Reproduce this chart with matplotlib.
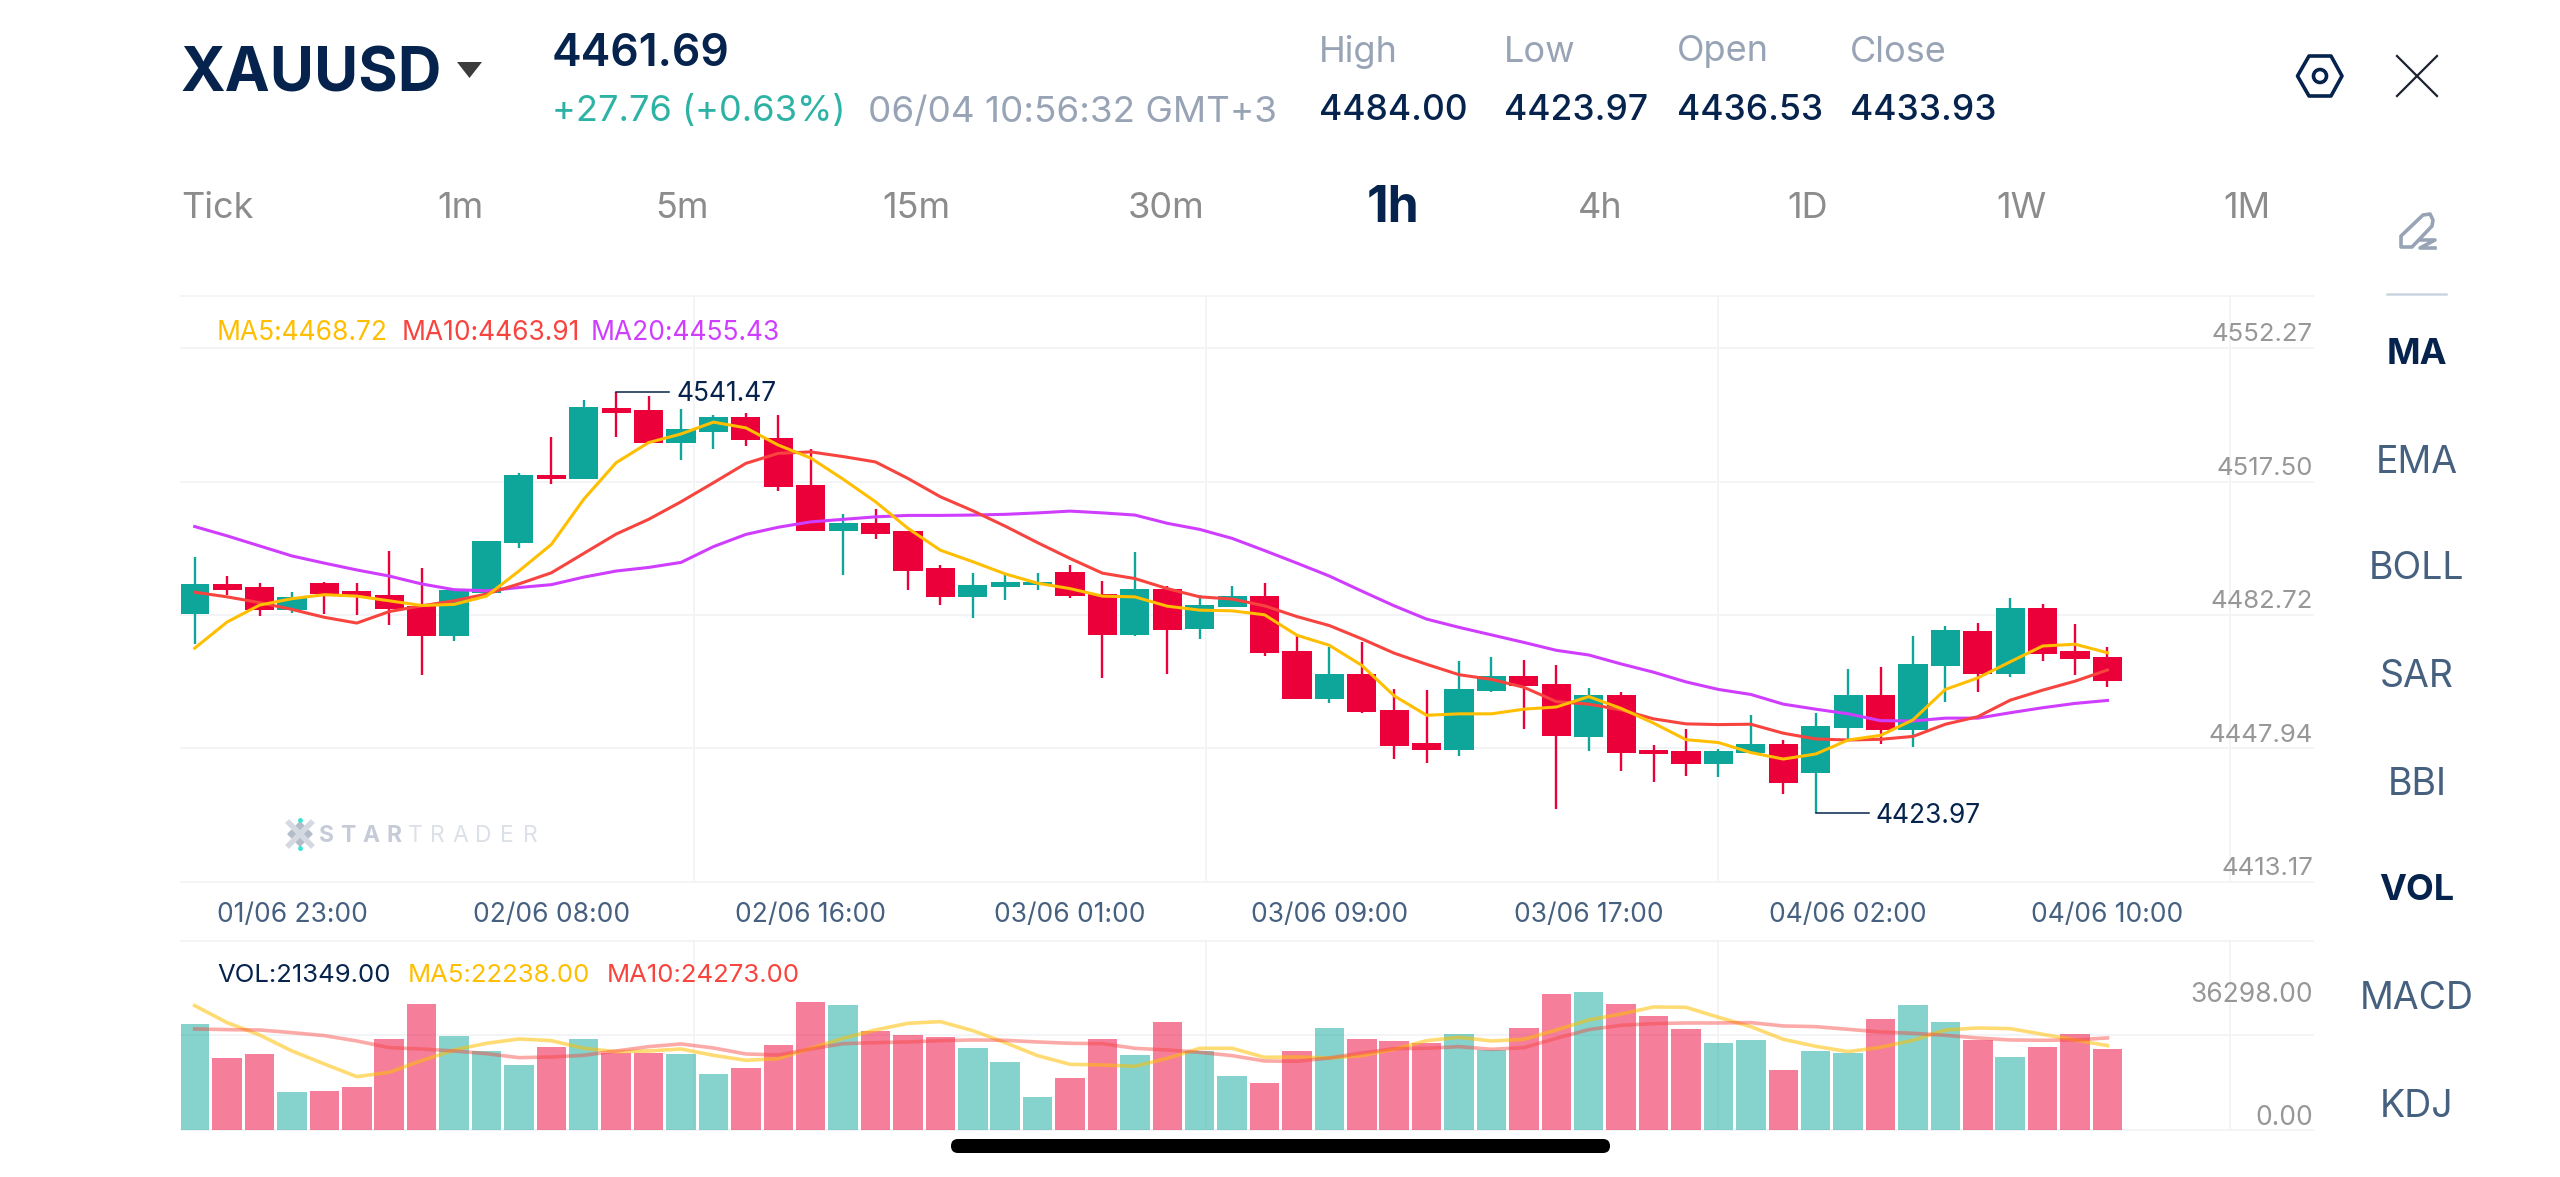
import numpy as np
import matplotlib
matplotlib.use("Agg")
import matplotlib.pyplot as plt
from matplotlib.patches import FancyBboxPatch, Polygon, Circle

plt.rcParams['font.family'] = ['Inter', 'DejaVu Sans']

W, H = 2560, 1177

NAVY = '#05234C'
TEAL = '#0EA69A'
RED = '#EC0039'
YELLOW = '#FFBF00'
ORANGE = '#F8443F'
PURPLE = '#CF3DFF'
GRID = '#F3F4F6'
GREY = '#98A4B5'
TAB = '#8C8C8C'
AXIS = '#979797'
SLATE = '#46607F'

# hourly candles
opens = [4479.5, 4487.9, 4487.0, 4480.6, 4488.2, 4485.8, 4484.7, 4481.8, 4473.4, 4485.5,
         4499.2, 4518.3, 4517.2, 4537.0, 4536.4, 4527.2, 4530.3, 4534.3, 4528.7, 4515.6,
         4502.7, 4504.9, 4502.7, 4492.3, 4484.2, 4487.0, 4487.7, 4491.1, 4485.2, 4473.7,
         4486.4, 4475.3, 4481.4, 4484.6, 4469.3, 4455.9, 4462.8, 4452.8, 4443.5, 4441.7,
         4458.0, 4462.2, 4460.1, 4445.3, 4456.9, 4441.6, 4441.3, 4437.6, 4440.7, 4443.4,
         4435.1, 4447.8, 4456.9, 4447.2, 4465.0, 4474.9, 4462.8, 4481.2, 4469.2, 4467.6]
highs = [4495.5, 4490.1, 4488.1, 4485.7, 4488.4, 4488.2, 4497.2, 4492.3, 4486.2, 4499.9,
         4518.7, 4528.9, 4539.2, 4541.47, 4540.3, 4536.6, 4534.9, 4535.5, 4535.0, 4525.4,
         4507.3, 4508.9, 4502.7, 4493.1, 4490.9, 4490.6, 4490.9, 4493.2, 4488.6, 4496.7,
         4487.3, 4484.9, 4487.4, 4488.1, 4473.7, 4470.4, 4471.8, 4458.5, 4458.3, 4466.5,
         4467.5, 4466.7, 4465.4, 4459.0, 4457.7, 4442.9, 4447.4, 4441.9, 4451.5, 4444.4,
         4452.0, 4464.1, 4464.8, 4473.3, 4476.2, 4476.9, 4483.9, 4482.2, 4476.8, 4470.3]
lows = [4471.2, 4484.8, 4479.0, 4479.9, 4479.5, 4479.2, 4476.5, 4462.5, 4472.1, 4485.5,
        4498.0, 4515.8, 4517.2, 4528.9, 4527.1, 4522.4, 4525.4, 4526.4, 4513.9, 4502.7,
        4490.3, 4500.3, 4486.2, 4481.9, 4478.5, 4483.3, 4486.2, 4484.1, 4461.7, 4473.5,
        4462.8, 4472.6, 4481.4, 4467.9, 4455.9, 4454.6, 4452.0, 4439.1, 4437.9, 4439.9,
        4457.8, 4447.4, 4425.1, 4441.4, 4435.8, 4432.6, 4434.5, 4434.0, 4440.7, 4429.3,
        4423.97, 4444.4, 4443.2, 4442.4, 4454.9, 4457.8, 4461.9, 4466.4, 4462.4, 4459.3]
closes = [4487.9, 4486.2, 4480.6, 4484.3, 4485.1, 4484.2, 4481.0, 4473.4, 4486.2, 4499.9,
          4518.3, 4517.2, 4537.1, 4535.6, 4527.1, 4531.2, 4534.3, 4527.9, 4514.9, 4502.7,
          4504.8, 4501.9, 4491.5, 4484.2, 4487.7, 4488.4, 4488.5, 4484.5, 4473.8, 4486.5,
          4475.1, 4482.1, 4484.6, 4468.6, 4455.9, 4462.8, 4452.1, 4442.7, 4441.6, 4458.7,
          4462.2, 4459.5, 4445.5, 4456.9, 4440.8, 4440.4, 4437.6, 4441.4, 4443.4, 4432.4,
          4448.4, 4456.9, 4447.2, 4465.7, 4475.1, 4462.8, 4481.2, 4468.4, 4466.9, 4460.8]

ma5 = [4470.0, 4477.3, 4482.0, 4483.8, 4484.9, 4484.5, 4483.2, 4481.9, 4482.2, 4484.5,
       4491.5, 4498.9, 4511.5, 4521.7, 4527.3, 4529.7, 4533.0, 4531.4, 4526.6, 4523.0,
       4517.1, 4510.8, 4503.4, 4497.3, 4494.1, 4490.7, 4488.1, 4486.6, 4484.5, 4484.3,
       4481.7, 4480.6, 4480.4, 4479.3, 4473.6, 4470.8, 4465.2, 4456.7, 4451.3, 4451.7,
       4451.7, 4453.0, 4453.6, 4456.5, 4453.2, 4449.1, 4444.5, 4443.7, 4440.9, 4439.1,
       4440.5, 4444.4, 4445.7, 4450.0, 4458.5, 4461.7, 4466.2, 4470.6, 4471.1, 4468.72]
ma10 = [4485.6, 4484.3, 4482.7, 4480.8, 4478.6, 4477.0, 4480.2, 4481.8, 4483.2, 4485.1,
        4487.9, 4491.0, 4496.4, 4501.8, 4505.9, 4510.8, 4516.1, 4521.5, 4524.3, 4524.7,
        4523.4, 4521.9, 4517.3, 4512.2, 4508.3, 4504.0, 4499.4, 4495.0, 4490.9, 4489.4,
        4486.6, 4484.3, 4483.7, 4481.8, 4478.8, 4476.3, 4472.6, 4468.6, 4465.5, 4462.6,
        4461.3, 4459.1, 4455.1, 4454.4, 4452.8, 4450.3, 4448.9, 4448.7, 4448.8, 4446.3,
        4444.7, 4444.4, 4444.6, 4445.4, 4448.8, 4450.9, 4455.5, 4458.3, 4460.8, 4463.91]
ma20 = [4503.9, 4501.3, 4498.5, 4495.7, 4493.7, 4491.8, 4490.1, 4487.9, 4486.3, 4486.0,
        4486.9, 4487.7, 4489.8, 4491.5, 4492.5, 4493.9, 4498.3, 4501.7, 4503.7, 4505.2,
        4505.9, 4506.6, 4507.0, 4507.0, 4507.1, 4507.3, 4507.7, 4508.2, 4507.7, 4507.1,
        4504.8, 4503.1, 4500.6, 4497.2, 4493.7, 4490.1, 4485.9, 4481.8, 4478.1, 4475.8,
        4473.7, 4471.6, 4469.4, 4468.1, 4465.6, 4463.3, 4460.6, 4458.5, 4457.1, 4454.4,
        4453.0, 4451.7, 4449.8, 4449.7, 4450.5, 4450.5, 4452.0, 4453.4, 4454.6, 4455.43]

volume = [28037, 18896, 19951, 9932, 10283, 11250, 23906, 33135, 24697, 20830,
          17139, 21885, 23906, 20390, 20390, 19951, 14853, 16260, 22500, 33662,
          33047, 26191, 24961, 24521, 21533, 18017, 8789, 13799, 23994, 19775,
          28564, 20830, 14326, 12305, 20830, 26894, 23906, 23555, 22939, 25224,
          21181, 26894, 35947, 36298, 33222, 30058, 26543, 22939, 23642, 15732,
          20830, 20215, 29179, 33047, 28388, 23730, 19248, 21797, 25224, 21349]
vol_ma5 = [32783, 28301, 25049, 20830, 17402, 14062, 15205, 18281, 21094, 22851,
           23994, 23555, 21533, 20654, 20830, 21357, 19687, 18369, 18808, 21533,
           24170, 26367, 28125, 28564, 26191, 23027, 19599, 17314, 17139, 16787,
           18896, 21533, 21533, 19160, 19248, 18984, 19599, 21269, 23555, 24433,
           23467, 23906, 26367, 29004, 30586, 32431, 32344, 29707, 27246, 23906,
           22060, 20654, 21797, 23642, 26367, 26894, 26719, 25224, 23730, 22238]
vol_ma10 = [26631, 26455, 26367, 25664, 24873, 23467, 21709, 21357, 20830, 20127,
            19072, 19248, 19687, 20830, 21973, 22676, 21621, 20039, 19775, 21357,
            22764, 23027, 23203, 23555, 23730, 23642, 23203, 22851, 22764, 21533,
            21094, 20478, 19599, 18193, 18105, 18984, 20303, 21445, 21533, 21973,
            21269, 21709, 24170, 26455, 27597, 28037, 28213, 28213, 28301, 27422,
            27246, 26543, 25840, 25488, 24961, 24258, 23730, 23642, 23730, 24273]

date_ticks = [3, 11, 19, 27, 35, 43, 51, 59]
date_labels = ['01/06 23:00', '02/06 08:00', '02/06 16:00', '03/06 01:00',
               '03/06 09:00', '03/06 17:00', '04/06 02:00', '04/06 10:00']
price_labels = ['4552.27', '4517.50', '4482.72', '4447.94', '4413.17']
stat_names = ['High', 'Low', 'Open', 'Close']
stat_values = ['4484.00', '4423.97', '4436.53', '4433.93']
tabs = ['1m', '5m', '15m', '30m', '1h', '4h', '1D', '1W', '1M']
indicators = ['MA', 'EMA', 'BOLL', 'SAR', 'BBI', 'VOL', 'MACD', 'KDJ']


def panel(x0, y0, x1, y1):
    ax = fig.add_axes([x0 / W, 1 - y1 / H, (x1 - x0) / W, (y1 - y0) / H])
    ax.patch.set_alpha(0)
    for s in ax.spines.values():
        s.set_visible(False)
    ax.set_yticks([])
    ax.set_xlim(-0.4226, 65.34)
    return ax


fig = plt.figure(figsize=(W / 100, H / 100), dpi=100, facecolor='white')

# background layer in pixel coordinates: grid, header, menus
ui = fig.add_axes([0, 0, 1, 1])
ui.set_xlim(0, W)
ui.set_ylim(H, 0)
ui.axis('off')

price_rows = [347.7, 481.5, 614.7, 748, 881.5]
for y in [296] + price_rows + [940.5, 1035, 1130]:
    ui.plot([181, 2313], [y, y], color=GRID, lw=1.4)
for x in [693.5, 1205.5, 1717.5, 2229.5]:
    ui.plot([x, x], [296, 881.5], color=GRID, lw=1.4)
    ui.plot([x, x], [940.5, 1130], color=GRID, lw=1.4)

ui.text(181, 75, 'XAUUSD', color=NAVY, fontsize=43.5, fontweight='bold', va='center')
ui.add_patch(Polygon([[457, 62], [482, 62], [469.5, 78]], closed=True, color='#3C3C3C', lw=0))
ui.text(552, 54, '4461.69', color=NAVY, fontsize=32, fontweight='semibold', va='center')
ui.text(552, 112, '+27.76 (+0.63%)', color='#2DB3A5', fontsize=26, va='center')
ui.text(868, 112, '06/04 10:56:32 GMT+3', color=GREY, fontsize=26.5, va='center')

for x, name, value in zip([1319, 1504, 1677, 1850], stat_names, stat_values):
    ui.text(x, 52, name, color=GREY, fontsize=26, va='center')
    ui.text(x, 111, value, color=NAVY, fontsize=25.5, fontweight='medium', va='center')

ui.text(181, 208, 'Tick', color=TAB, fontsize=26, va='center')
for x, name in zip([460, 682, 916, 1166, 1393, 1600, 1808, 2021, 2247], tabs):
    if name == '1h':
        ui.text(x, 209, name, color=NAVY, fontsize=36, fontweight='bold', va='center', ha='center')
    else:
        ui.text(x, 208, name, color=TAB, fontsize=26, va='center', ha='center')

for y, name in zip([355, 463, 569, 677, 785, 891, 999, 1107], indicators):
    if name in ('MA', 'VOL'):
        ui.text(2417, y, name, color=NAVY, fontsize=26, fontweight='bold', va='center', ha='center')
    else:
        ui.text(2417, y, name, color=SLATE, fontsize=27, va='center', ha='center')

# settings and close icons
ui.add_patch(Polygon([[2297.5, 76], [2309, 56], [2331, 56], [2342, 76], [2331, 96], [2309, 96]],
                     closed=True, fill=False, edgecolor=NAVY, lw=2.6, joinstyle='round'))
ui.add_patch(Circle((2320, 76), 6.5, fill=False, edgecolor=NAVY, lw=2.6))
ui.plot([2397, 2437], [56, 96], color='#1C2230', lw=1.6)
ui.plot([2397, 2437], [96, 56], color='#1C2230', lw=1.6)

# pencil icon and divider
ui.add_patch(Polygon([[2401, 247], [2401, 236], [2423, 215], [2430, 214], [2433, 220], [2432, 226], [2412, 247]],
                     closed=True, fill=False, edgecolor=GREY, lw=2.6, joinstyle='round'))
ui.plot([2420, 2435, 2420, 2435], [240, 240, 248, 248], color=GREY, lw=2.6)
ui.plot([2387, 2446], [293.5, 293.5], color='#CBD5E1', lw=1.8)

# legends
for x, txt, col in zip([217, 402, 591],
                       ['MA5:4468.72', 'MA10:4463.91', 'MA20:4455.43'],
                       [YELLOW, ORANGE, PURPLE]):
    ui.text(x, 333, txt, color=col, fontsize=19, va='center')
for x, txt, col in zip([217, 408, 607],
                       ['VOL:21349.00', 'MA5:22238.00', 'MA10:24273.00'],
                       [NAVY, YELLOW, ORANGE]):
    ui.text(x, 975, txt, color=col, fontsize=18.5, va='center')

for y, txt in zip(price_rows, price_labels):
    ui.text(2313, y - 13, txt, color=AXIS, fontsize=18.5, va='center', ha='right')
ui.text(2313, 995, '36298.00', color=AXIS, fontsize=19, va='center', ha='right')
ui.text(2313, 1118, '0.00', color=AXIS, fontsize=19, va='center', ha='right')

# watermark, letters spaced out by hand
ui.add_patch(Polygon([[300, 821], [313, 834], [300, 847], [287, 834]], closed=True, color='#B5BCC9', lw=0))
ui.plot([289, 311], [823, 845], color='#D5D9E1', lw=4)
ui.plot([289, 311], [845, 823], color='#D5D9E1', lw=4)
ui.plot([300, 300], [820, 848], ls='none', marker='o', ms=2.5, color='#3FE0D5')
for i, (x, ch) in enumerate(zip([327, 348, 371, 394, 415, 437, 460, 483, 507, 530], 'STARTRADER')):
    ui.text(x, 835.5, ch, color='#C6CCD7' if i < 4 else '#DCE0E7', fontsize=16.5,
            fontweight='bold' if i < 4 else 'normal', va='center', ha='center')

# home indicator
ui.add_patch(FancyBboxPatch((951, 1139), 659, 14, boxstyle='round,pad=0,rounding_size=7',
                            color='black', lw=0))

opens = np.array(opens)
closes = np.array(closes)
highs = np.array(highs)
lows = np.array(lows)
x = np.arange(len(opens))
colors = [TEAL if c >= o else RED for o, c in zip(opens, closes)]

# price panel
ax = panel(181, 296, 2313, 881.5)
ax.set_ylim(4404.97, 4568.15)
ax.vlines(x, lows, highs, colors=colors, lw=1.7, zorder=2)
ax.bar(x, np.abs(closes - opens), bottom=np.minimum(opens, closes), width=0.9, color=colors, zorder=3)
ax.plot(x, ma20, color=PURPLE, lw=2.2, zorder=4)
ax.plot(x, ma10, color=ORANGE, lw=2.2, zorder=5)
ax.plot(x, ma5, color=YELLOW, lw=2.2, zorder=6)
ax.set_xticks(date_ticks)
ax.set_xticklabels(date_labels, color=SLATE, fontsize=19)
ax.tick_params(axis='x', length=0, pad=15)

# extreme price markers
imax = int(np.argmax(highs))
imin = int(np.argmin(lows))
ax.plot([imax, imax + 1.63], [highs[imax]] * 2, color=NAVY, lw=1.1, zorder=7)
ax.annotate(f'{highs[imax]:.2f}', xy=(imax + 1.85, highs[imax]), xytext=(0, -1.5), textcoords='offset points',
            color=NAVY, fontsize=19, va='center', zorder=7)
ax.plot([imin, imin + 1.63], [lows[imin]] * 2, color=NAVY, lw=1.1, zorder=7)
ax.annotate(f'{lows[imin]:.2f}', xy=(imin + 1.85, lows[imin]), xytext=(0, -2), textcoords='offset points',
            color=NAVY, fontsize=19, va='center', zorder=7)

# volume panel
vax = panel(181, 940.5, 2313, 1130)
vax.set_ylim(0, 49950)
vax.set_xticks([])
vax.bar(x, volume, width=0.91, color=colors, alpha=0.5)
vax.plot(x, vol_ma5, color=YELLOW, lw=2.6, alpha=0.55)
vax.plot(x, vol_ma10, color=ORANGE, lw=2.6, alpha=0.45)

fig.savefig('out.png', dpi=100)
